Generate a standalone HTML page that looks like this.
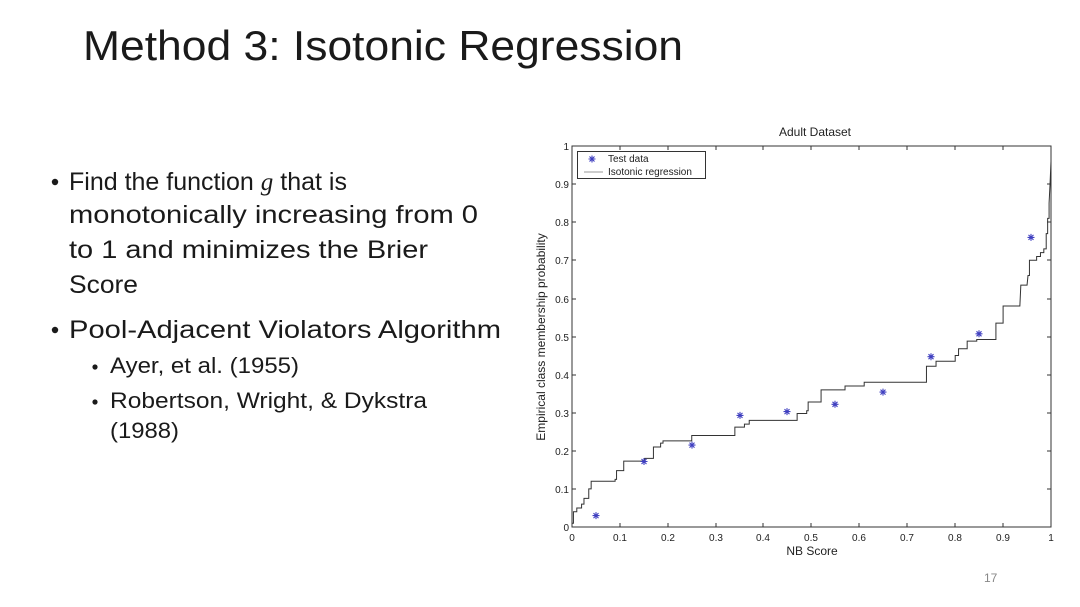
<!DOCTYPE html>
<html><head><meta charset="utf-8"><style>
html,body{margin:0;padding:0;background:#fff;}
svg{display:block;}
</style></head><body>
<svg width="1080" height="607" viewBox="0 0 1080 607" xmlns="http://www.w3.org/2000/svg">
<defs><path id="st" d="M-3.5,0h7M0,-3.5v7M-2.5,-2.5l5,5M-2.5,2.5l5,-5" stroke="#4040c0" stroke-width="1.1" fill="none"/></defs>
<rect width="1080" height="607" fill="#fff"/>
<g font-family="Liberation Sans, sans-serif" fill="#1a1a1a">
<text x="83" y="60" font-size="42" textLength="600" lengthAdjust="spacingAndGlyphs">Method 3: Isotonic Regression</text>
<g font-size="25">
<circle cx="55" cy="182" r="3.2"/>
<text x="69" y="190">Find the function <tspan font-family="Liberation Serif, serif" font-style="italic">g</tspan> that is</text>
<text x="69" y="223" textLength="409" lengthAdjust="spacingAndGlyphs">monotonically increasing from 0</text>
<text x="69" y="258" textLength="359" lengthAdjust="spacingAndGlyphs">to 1 and minimizes the Brier</text>
<text x="69" y="293" textLength="69" lengthAdjust="spacingAndGlyphs">Score</text>
<circle cx="55" cy="330" r="3.2"/>
<text x="69" y="338" textLength="432" lengthAdjust="spacingAndGlyphs">Pool-Adjacent Violators Algorithm</text>
</g>
<g font-size="22">
<circle cx="95" cy="367" r="2.6"/>
<text x="110" y="373" textLength="189" lengthAdjust="spacingAndGlyphs">Ayer, et al. (1955)</text>
<circle cx="95" cy="402" r="2.6"/>
<text x="110" y="408" textLength="317" lengthAdjust="spacingAndGlyphs">Robertson, Wright, &amp; Dykstra</text>
<text x="110" y="438" textLength="69" lengthAdjust="spacingAndGlyphs">(1988)</text>
</g>
<text x="984" y="582" font-size="12" fill="#888">17</text>
</g>

<g font-family="Liberation Sans, sans-serif" font-size="10" fill="#222">
<text x="815" y="136" font-size="12" text-anchor="middle">Adult Dataset</text>
<rect x="572" y="146" width="479" height="381" fill="none" stroke="#333" stroke-width="1"/>
<g stroke="#333" stroke-width="1">
<path d="M620,146v4M668,146v4M716,146v4M763,146v4M811,146v4M859,146v4M907,146v4M955,146v4M1003,146v4
M620,527v-4M668,527v-4M716,527v-4M763,527v-4M811,527v-4M859,527v-4M907,527v-4M955,527v-4M1003,527v-4
M572,489h4M572,451h4M572,413h4M572,375h4M572,337h4M572,299h4M572,260h4M572,222h4M572,184h4
M1051,489h-4M1051,451h-4M1051,413h-4M1051,375h-4M1051,337h-4M1051,299h-4M1051,260h-4M1051,222h-4M1051,184h-4"/>
</g>
<g text-anchor="middle">
<text x="572" y="541">0</text><text x="620" y="541">0.1</text><text x="668" y="541">0.2</text><text x="716" y="541">0.3</text><text x="763" y="541">0.4</text><text x="811" y="541">0.5</text><text x="859" y="541">0.6</text><text x="907" y="541">0.7</text><text x="955" y="541">0.8</text><text x="1003" y="541">0.9</text><text x="1051" y="541">1</text>
</g>
<g text-anchor="end">
<text x="569" y="531">0</text><text x="569" y="493">0.1</text><text x="569" y="455">0.2</text><text x="569" y="417">0.3</text><text x="569" y="379">0.4</text><text x="569" y="341">0.5</text><text x="569" y="303">0.6</text><text x="569" y="264">0.7</text><text x="569" y="226">0.8</text><text x="569" y="188">0.9</text><text x="569" y="150">1</text>
</g>
<text x="812" y="555" font-size="12" text-anchor="middle">NB Score</text>
<text transform="translate(545,337) rotate(-90)" font-size="12" text-anchor="middle">Empirical class membership probability</text>

<g transform="translate(572,527) scale(479,-381)">
<path fill="none" stroke="#333" vector-effect="non-scaling-stroke" style="stroke-width:1px"
d="M0,0.01 L0.003,0.01 L0.003,0.04 L0.01,0.04 L0.01,0.05 L0.02,0.05 L0.02,0.06 L0.025,0.06 L0.025,0.075 L0.035,0.075 L0.035,0.1 L0.04,0.1 L0.04,0.12 L0.09,0.12 L0.09,0.125 L0.093,0.125 L0.093,0.148 L0.108,0.148 L0.108,0.173 L0.152,0.173 L0.152,0.18 L0.17,0.18 L0.17,0.21 L0.185,0.21 L0.185,0.22 L0.19,0.22 L0.19,0.226 L0.25,0.226 L0.25,0.24 L0.34,0.24 L0.34,0.262 L0.36,0.262 L0.36,0.27 L0.37,0.27 L0.37,0.28 L0.47,0.28 L0.47,0.298 L0.49,0.298 L0.49,0.305 L0.493,0.305 L0.493,0.328 L0.52,0.328 L0.52,0.36 L0.57,0.36 L0.57,0.37 L0.61,0.37 L0.61,0.38 L0.74,0.38 L0.74,0.422 L0.76,0.422 L0.76,0.435 L0.8,0.435 L0.8,0.45 L0.807,0.45 L0.807,0.468 L0.825,0.468 L0.825,0.488 L0.845,0.488 L0.845,0.492 L0.885,0.492 L0.885,0.535 L0.9,0.535 L0.9,0.58 L0.935,0.58 L0.937,0.635 L0.95,0.635 L0.952,0.66 L0.955,0.66 L0.955,0.7 L0.97,0.7 L0.97,0.71 L0.978,0.71 L0.978,0.72 L0.985,0.72 L0.985,0.73 L0.99,0.73 L0.99,0.77 L0.993,0.77 L0.993,0.81 L0.996,0.81 L0.996,0.85 L0.998,0.9 L1,0.96"/>
</g>
<use href="#st" x="596" y="515.6"/>
<use href="#st" x="644" y="461.5"/>
<use href="#st" x="692" y="445.1"/>
<use href="#st" x="740" y="415.4"/>
<use href="#st" x="787" y="411.6"/>
<use href="#st" x="835" y="404.3"/>
<use href="#st" x="883" y="392.1"/>
<use href="#st" x="931" y="356.7"/>
<use href="#st" x="979" y="333.8"/>
<use href="#st" x="1031" y="237.4"/>
<rect x="577.5" y="151.5" width="128" height="27" fill="#fff" stroke="#333" stroke-width="1"/>
<use href="#st" x="592" y="159"/>
<text x="608" y="162">Test data</text>
<line x1="584" y1="172" x2="603" y2="172" stroke="#999" stroke-width="1"/>
<text x="608" y="175">Isotonic regression</text>
</g>
</svg>
</body></html>
